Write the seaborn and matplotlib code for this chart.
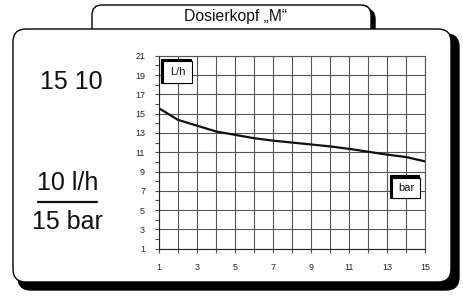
import numpy as np
import matplotlib
matplotlib.use("Agg")
import matplotlib.pyplot as plt
from matplotlib.patches import FancyBboxPatch, Rectangle
import seaborn as sns

# pressure (bar) vs. flow (L/h)
pressure = [1, 2, 3, 4, 5, 6, 7, 8, 9, 10, 11, 12, 13, 14, 15]
flow = [15.55, 14.35, 13.75, 13.15, 12.8, 12.45, 12.2, 12.0, 11.8, 11.6, 11.35, 11.05, 10.75, 10.5, 10.05]

x_ticks = list(range(1, 16))
x_labels = [str(v) if v % 2 else "" for v in x_ticks]
y_ticks = list(range(1, 22, 2))
y_minor = list(range(2, 21, 2))

title = "Dosierkopf \u201eM\u201c"
model_text = "15 10"
flow_text = "10 l/h"
bar_text = "15 bar"

sns.set_style("white")
plt.rcParams["font.family"] = ["Liberation Sans", "DejaVu Sans"]

W, H = 464, 296
fig = plt.figure(figsize=(W / 100, H / 100), dpi=100)

# background frame, drawn in pixel coords
bg = fig.add_axes([0, 0, 1, 1], zorder=0)
bg.set_xlim(0, W)
bg.set_ylim(H, 0)
bg.axis("off")

# tab with title
bg.add_patch(FancyBboxPatch((96, 9), 279, 40, boxstyle="round,pad=0,rounding_size=10",
                            fc="black", ec="black", lw=1))
bg.add_patch(FancyBboxPatch((92, 5), 279, 40, boxstyle="round,pad=0,rounding_size=10",
                            fc="white", ec="black", lw=1))
# main box
bg.add_patch(FancyBboxPatch((18, 34), 441, 256, boxstyle="round,pad=0,rounding_size=13",
                            fc="black", ec="black", lw=1))
bg.add_patch(FancyBboxPatch((13, 29), 438, 253, boxstyle="round,pad=0,rounding_size=13",
                            fc="white", ec="black", lw=1))

bg.text(236, 16, title, ha="center", va="center", fontsize=11.3, color="#111111")
bg.text(71, 82, model_text, ha="center", va="center", fontsize=18, color="#111111")
bg.text(67.5, 183, flow_text, ha="center", va="center", fontsize=18, color="#111111")
bg.plot([38, 97], [201.5, 201.5], color="#111111", lw=1.6)
bg.text(67.5, 222, bar_text, ha="center", va="center", fontsize=18, color="#111111")

# chart
ax = fig.add_axes([159 / W, 1 - 248.7 / H, 266 / W, 193 / H], zorder=2)
ax.set_facecolor("white")
sns.lineplot(x=pressure, y=flow, color="#111111", lw=1.6, ax=ax)
ax.set_xlim(1, 15)
ax.set_ylim(1, 21)
ax.set_xticks(x_ticks)
ax.set_xticklabels(x_labels)
ax.set_yticks(y_ticks)
ax.set_yticks(y_minor, minor=True)
ax.grid(True, which="major", color="#555555", lw=0.8)
ax.tick_params(axis="both", which="both", direction="out", length=3, width=0.8,
               color="#555555", labelsize=6.5, pad=7, left=True, bottom=True)
for s in ax.spines.values():
    s.set_color("#555555")
    s.set_linewidth(0.8)
ax.spines["left"].set_color("#222222")
ax.spines["bottom"].set_color("#222222")
ax.set_xlabel("")
ax.set_ylabel("")


def label_box(x0, y0, x1, y1, text):
    ax.add_patch(Rectangle((x0 - 0.08, y0), x1 - x0, y1 - y0 + 0.25, fc="black", ec="black",
                           lw=0.8, clip_on=False, zorder=5))
    ax.add_patch(Rectangle((x0, y0), x1 - x0, y1 - y0, fc="white", ec="black",
                           lw=0.8, clip_on=False, zorder=6))
    ax.text((x0 + x1) / 2, (y0 + y1) / 2, text, ha="center", va="center",
            fontsize=8, color="#111111", zorder=7)


label_box(1.2, 18.2, 2.75, 20.45, "L/h")
label_box(13.25, 6.3, 14.75, 8.35, "bar")

fig.savefig("out.png", dpi=100)
